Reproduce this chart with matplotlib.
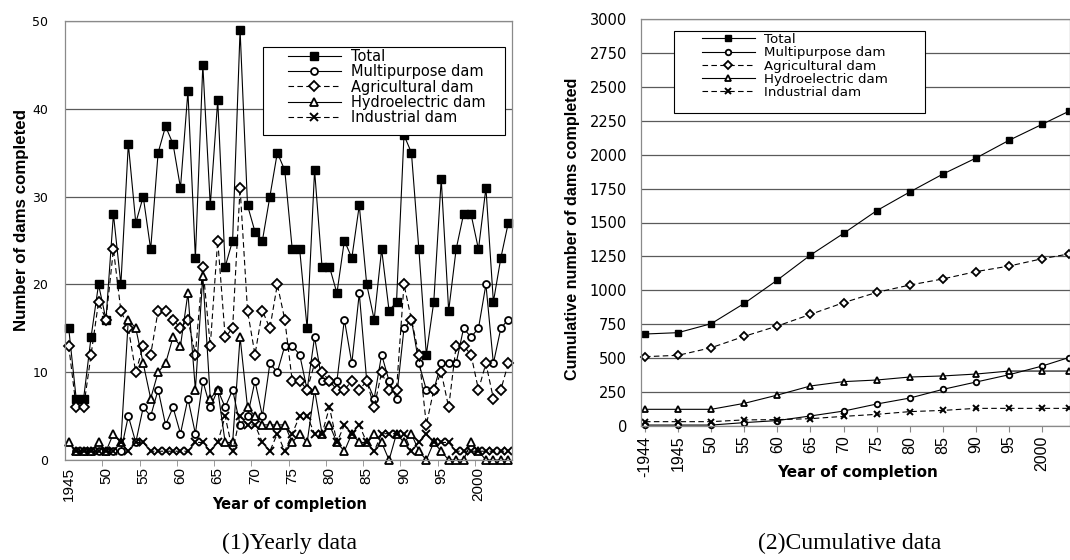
import matplotlib.pyplot as plt
from matplotlib.patches import Rectangle
import numpy as np

nan = np.nan

# --- yearly data (1945-2004) ---
years = np.arange(1945, 2005)
total = [15, 7, 7, 14, 20, 16, 28, 20, 36, 27,
         30, 24, 35, 38, 36, 31, 42, 23, 45, 29,
         41, 22, 25, 49, 29, 26, 25, 30, 35, 33,
         24, 24, 15, 33, 22, 22, 19, 25, 23, 29,
         20, 16, 24, 17, 18, 37, 35, 24, 12, 18,
         32, 17, 24, 28, 28, 24, 31, 18, 23, 27]
multi = [nan, 1, 1, 1, 1, 1, 1, 1, 5, 2,
         6, 5, 8, 4, 6, 3, 7, 3, 9, 6,
         8, 6, 8, 4, 5, 9, 5, 11, 10, 13,
         13, 12, 8, 14, 9, 9, 9, 16, 11, 19,
         9, 7, 12, 9, 7, 15, 16, 11, 8, 8,
         11, 11, 11, 15, 14, 15, 20, 11, 15, 16]
agri = [13, 6, 6, 12, 18, 16, 24, 17, 15, 10,
        13, 12, 17, 17, 16, 15, 16, 12, 22, 13,
        25, 14, 15, 31, 17, 12, 17, 15, 20, 16,
        9, 9, 8, 11, 10, 9, 8, 8, 9, 8,
        9, 6, 10, 8, 8, 20, 16, 12, 4, 8,
        10, 6, 13, 13, 12, 8, 11, 7, 8, 11]
hydro = [2, 1, 1, 1, 2, 1, 3, 2, 16, 15,
         11, 7, 10, 11, 14, 13, 19, 8, 21, 7,
         8, 2, 2, 14, 6, 5, 4, 4, 4, 4,
         2, 3, 2, 8, 3, 4, 2, 1, 3, 2,
         2, 3, 2, 0, 3, 2, 3, 1, 0, 2,
         1, 0, 0, 0, 2, 1, 0, 0, 0, 0]
indus = [nan, 1, 1, 1, 1, 1, 1, 2, 1, 2,
         2, 1, 1, 1, 1, 1, 1, 2, 2, 1,
         2, 5, 1, 5, 4, 4, 2, 1, 3, 1,
         3, 5, 5, 3, 3, 6, 2, 4, 3, 4,
         2, 1, 3, 3, 3, 3, 1, 2, 3, 2,
         2, 2, 1, 1, 1, 1, 1, 1, 1, 1]
year_ticks = list(range(1945, 2001, 5))
year_labels = ['1945'] + [str(y)[2:] for y in range(1950, 2000, 5)] + ['2000']

# --- cumulative data ---
cum_x = [1940, 1945, 1950, 1955, 1960, 1965, 1970, 1975, 1980, 1985, 1990, 1995, 2000, 2004]
cum_labels = ['-1944', '1945', '50', '55', '60', '65', '70', '75', '80', '85', '90', '95', '2000']
cum_total = [678, 688, 754, 904, 1076, 1260, 1420, 1587, 1725, 1857, 1975, 2106, 2224, 2319]
cum_multi = [7, 7, 7, 25, 40, 74, 110, 162, 206, 270, 324, 378, 442, 504]
cum_agri = [511, 521, 577, 661, 737, 823, 909, 985, 1039, 1084, 1138, 1179, 1233, 1268]
cum_hydro = [123, 123, 123, 167, 228, 295, 327, 339, 361, 369, 383, 405, 405, 405]
cum_indus = [32, 32, 32, 45, 47, 54, 71, 86, 106, 115, 130, 130, 130, 130]

names = ['Total', 'Multipurpose dam', 'Agricultural dam', 'Hydroelectric dam', 'Industrial dam']

W, H = 1070, 560
fig = plt.figure(figsize=(W / 100, H / 100), dpi=100)
grid_c = '#5a5a5a'
frame_c = '#8a8a8a'
rot_font = 'Liberation Sans'


def style_axes(ax):
    for s in ax.spines.values():
        s.set_color(frame_c)
        s.set_linewidth(0.9)
    ax.yaxis.grid(True, color=grid_c, linewidth=0.9)
    ax.set_axisbelow(True)
    ax.tick_params(axis='y', length=0)


def draw_series(ax, x, series, big):
    s = 1.0 if big else 0.8
    kw = dict(color='black', linewidth=0.8, clip_on=False)
    ax.plot(x, series[0], marker='s', ms=5.8 * s, mfc='black', mec='black', **kw)
    ax.plot(x, series[1], marker='o', ms=5.0 * s, mfc='white', mec='black', mew=1.3, **kw)
    ax.plot(x, series[2], marker='D', ms=4.6 * s, mfc='white', mec='black', mew=1.3,
            dashes=(5, 3), **kw)
    ax.plot(x, series[3], marker='^', ms=6.0 * s, mfc='white', mec='black', mew=1.3, **kw)
    ax.plot(x, series[4], marker='x', ms=5.5 * s, mec='black', mew=1.4, dashes=(5, 3), **kw)


def draw_legend(ax, box, handle_x, top_y, spacing, size):
    x0, y0, x1, y1 = box
    ax.add_patch(Rectangle((x0 / W, 1 - y1 / H), (x1 - x0) / W, (y1 - y0) / H,
                           transform=fig.transFigure, facecolor='white',
                           edgecolor='black', linewidth=0.8, zorder=4, clip_on=False))
    leg = ax.legend(ax.get_lines(), names, loc='upper left', frameon=False,
                    bbox_to_anchor=(handle_x / W, 1 - top_y / H),
                    bbox_transform=fig.transFigure, borderpad=0, borderaxespad=0,
                    numpoints=1, handlelength=3.6 * 10.5 / size, handletextpad=0.7,
                    labelspacing=spacing, prop={'family': 'DejaVu Sans', 'size': size})
    leg.set_zorder(5)


# --- (1) yearly data ---
axL = fig.add_axes([65 / W, 1 - 460 / H, 447 / W, 439 / H])
style_axes(axL)
draw_series(axL, years, [total, multi, agri, hydro, indus], True)
axL.set_xlim(1944.5, 2004.5)
axL.set_ylim(0, 50)
axL.set_yticks(range(0, 51, 10))
axL.tick_params(axis='y', labelsize=9, pad=12)
for t in axL.get_yticklabels():
    t.set_family('DejaVu Sans')
axL.set_xticks(year_ticks)
axL.set_xticklabels(year_labels, rotation=90, family=rot_font, fontsize=11)
axL.set_xticks(np.arange(1949.5, 2004, 5), minor=True)
axL.tick_params(axis='x', which='major', length=0, pad=5)
axL.tick_params(axis='x', which='minor', length=4, color=frame_c, direction='out')
draw_legend(axL, (263, 47, 505, 135), 288, 49, 0.02, 10.5)

fig.text(22 / W, 1 - 220 / H, 'Number of dams completed', rotation=90, ha='center',
         va='center', family=rot_font, fontweight='bold', fontsize=12.2)
fig.text(290 / W, 1 - 505 / H, 'Year of completion', ha='center', va='center',
         family='DejaVu Sans', fontweight='bold', fontsize=10.5)
fig.text(290 / W, 1 - 543 / H, '(1)Yearly data', ha='center', va='center',
         family='Liberation Serif', fontsize=17)

# --- (2) cumulative data ---
axR = fig.add_axes([641 / W, 1 - 426 / H, 429 / W, 407 / H])
style_axes(axR)
draw_series(axR, cum_x, [cum_total, cum_multi, cum_agri, cum_hydro, cum_indus], False)
axR.set_xlim(1939.4, 2004.2)
axR.set_ylim(0, 3000)
axR.set_yticks(range(0, 3001, 250))
axR.tick_params(axis='y', labelsize=10.5, pad=10)
for t in axR.get_yticklabels():
    t.set_family('DejaVu Sans')
axR.set_xticks(cum_x[:-1])
axR.set_xticklabels(cum_labels, rotation=90, family=rot_font, fontsize=11.5)
axR.tick_params(axis='x', length=4, color=frame_c, direction='out', pad=3)
draw_legend(axR, (674, 31, 925, 113), 702, 33, 0.02, 9.6)

fig.text(572 / W, 1 - 229 / H, 'Cumulative number of dams completed', rotation=90,
         ha='center', va='center', family=rot_font, fontweight='bold', fontsize=11.6)
fig.text(858 / W, 1 - 473 / H, 'Year of completion', ha='center', va='center',
         family='DejaVu Sans', fontweight='bold', fontsize=11)
fig.text(850 / W, 1 - 543 / H, '(2)Cumulative data', ha='center', va='center',
         family='Liberation Serif', fontsize=17)

fig.savefig('out.png', dpi=100)
